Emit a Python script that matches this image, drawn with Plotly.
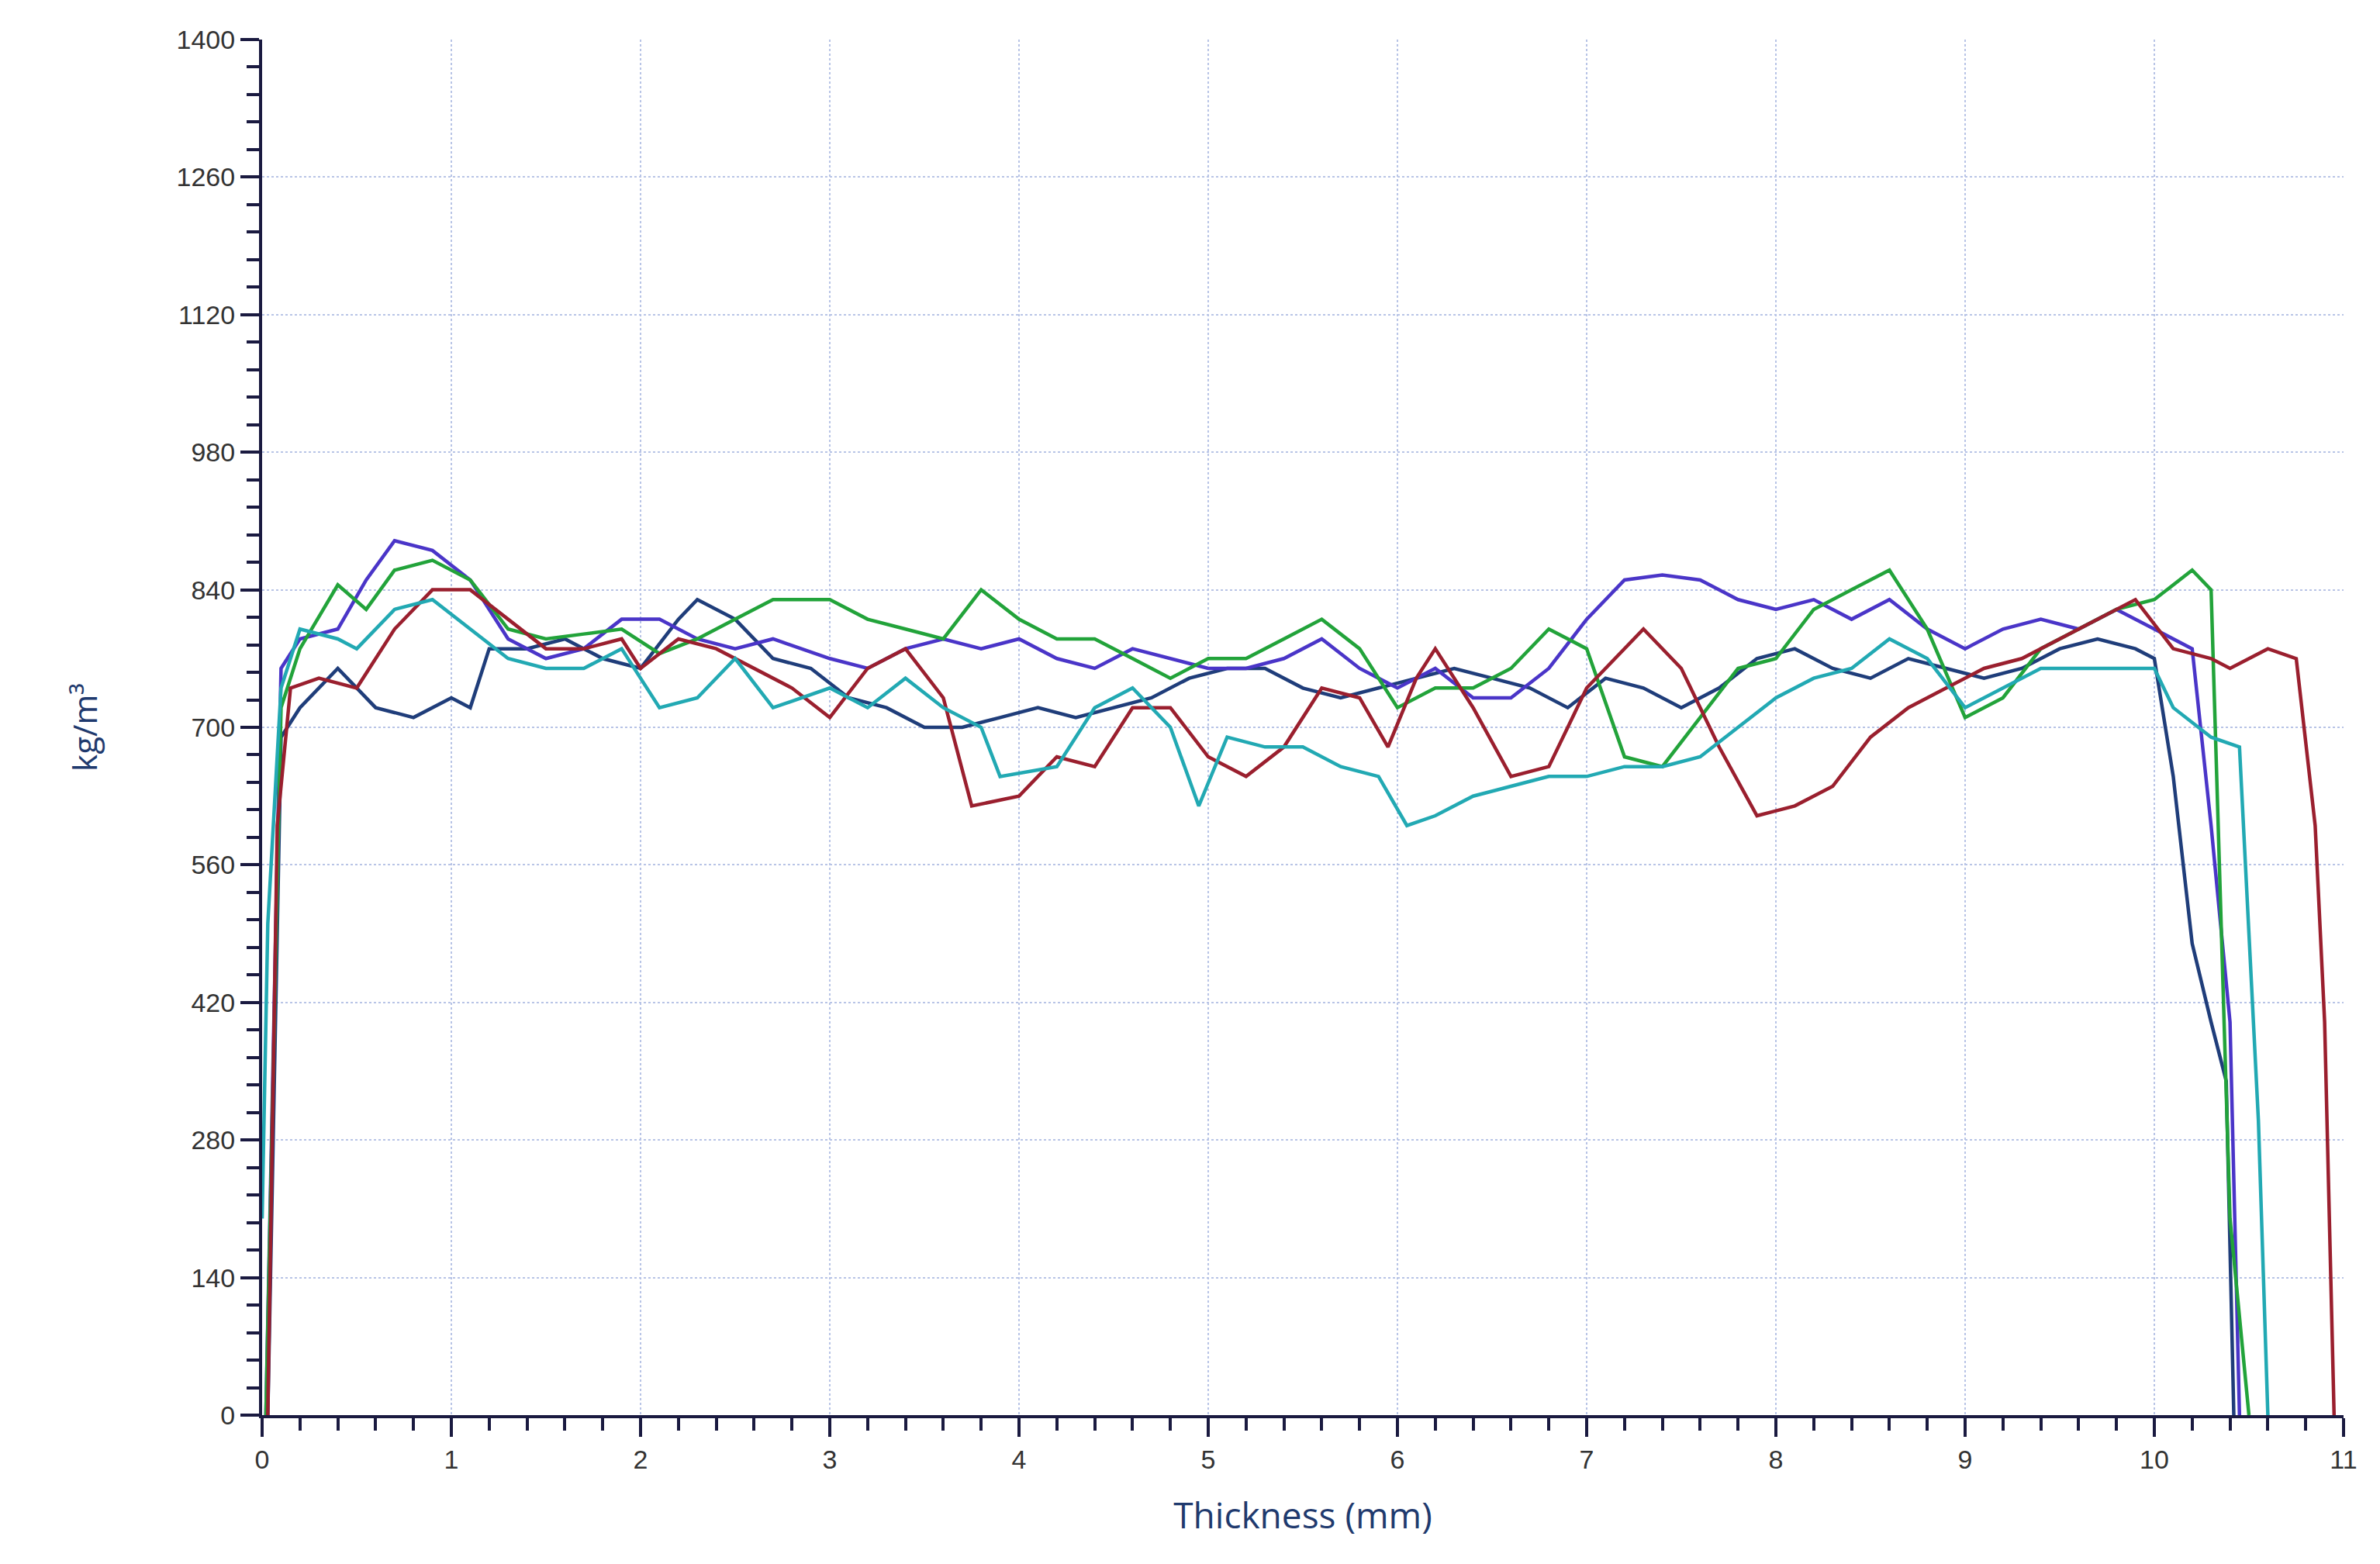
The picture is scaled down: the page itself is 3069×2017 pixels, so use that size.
import plotly.graph_objects as go

purple_x = [0.02,0.1,0.2,0.4,0.55,0.7,0.9,1.1,1.3,1.5,1.7,1.9,2.1,2.3,2.5,2.7,3.0,3.2,3.4,3.6,3.8,4.0,4.2,4.4,4.6,4.8,5.0,5.2,5.4,5.6,5.8,6.0,6.2,6.4,6.6,6.8,7.0,7.2,7.4,7.6,7.8,8.0,8.2,8.4,8.6,8.8,9.0,9.2,9.4,9.6,9.8,10.0,10.2,10.3,10.4,10.45]
purple_y = [0,760,790,800,850,890,880,850,790,770,780,810,810,790,780,790,770,760,780,790,780,790,770,760,780,770,760,760,770,790,760,740,760,730,730,760,810,850,855,850,830,820,830,810,830,800,780,800,810,800,820,800,780,600,400,0]

green_x = [0.02,0.1,0.2,0.4,0.55,0.7,0.9,1.1,1.3,1.5,1.7,1.9,2.1,2.3,2.5,2.7,3.0,3.2,3.4,3.6,3.8,4.0,4.2,4.4,4.6,4.8,5.0,5.2,5.4,5.6,5.8,6.0,6.2,6.4,6.6,6.8,7.0,7.2,7.4,7.6,7.8,8.0,8.2,8.4,8.6,8.8,9.0,9.2,9.4,9.6,9.8,10.0,10.2,10.3,10.4,10.5]
green_y = [0,720,780,845,820,860,870,850,800,790,795,800,775,790,810,830,830,810,800,790,840,810,790,790,770,750,770,770,790,810,780,720,740,740,760,800,780,670,660,710,760,770,820,840,860,800,710,730,780,800,820,830,860,840,200,0]

red_x = [0.03,0.08,0.15,0.3,0.5,0.7,0.9,1.1,1.3,1.5,1.7,1.9,2.0,2.2,2.4,2.6,2.8,3.0,3.2,3.4,3.6,3.75,4.0,4.2,4.4,4.6,4.8,5.0,5.2,5.4,5.6,5.8,5.95,6.1,6.2,6.4,6.6,6.8,7.0,7.3,7.5,7.7,7.9,8.1,8.3,8.5,8.7,8.9,9.1,9.3,9.5,9.7,9.9,10.1,10.3,10.4,10.6,10.75,10.85,10.9,10.95]
red_y = [0,600,740,750,740,800,840,840,810,780,780,790,760,790,780,760,740,710,760,780,730,620,630,670,660,720,720,670,650,680,740,730,680,750,780,720,650,660,740,800,760,680,610,620,640,690,720,740,760,770,790,810,830,780,770,760,780,770,600,400,0]

cyan_x = [0.0,0.03,0.1,0.2,0.4,0.5,0.7,0.9,1.1,1.3,1.5,1.7,1.9,2.1,2.3,2.5,2.7,3.0,3.2,3.4,3.6,3.8,3.9,4.2,4.4,4.6,4.8,4.95,5.1,5.3,5.5,5.7,5.9,6.05,6.2,6.4,6.6,6.8,7.0,7.2,7.4,7.6,7.8,8.0,8.2,8.4,8.6,8.8,9.0,9.2,9.4,9.6,9.8,10.0,10.1,10.3,10.45,10.55,10.6]
cyan_y = [200,500,740,800,790,780,820,830,800,770,760,760,780,720,730,770,720,740,720,750,720,700,650,660,720,740,700,620,690,680,680,660,650,600,610,630,640,650,650,660,660,670,700,730,750,760,790,770,720,740,760,760,760,760,720,690,680,300,0]

navy_x = [0.03,0.1,0.2,0.3,0.4,0.6,0.8,1.0,1.1,1.2,1.4,1.6,1.8,2.0,2.2,2.3,2.5,2.7,2.9,3.1,3.3,3.5,3.7,3.9,4.1,4.3,4.5,4.7,4.9,5.1,5.3,5.5,5.7,5.9,6.1,6.3,6.5,6.7,6.9,7.1,7.3,7.5,7.7,7.9,8.1,8.3,8.5,8.7,8.9,9.1,9.3,9.5,9.7,9.9,10.0,10.1,10.2,10.3,10.38,10.42]
navy_y = [0,690,720,740,760,720,710,730,720,780,780,790,770,760,810,830,810,770,760,730,720,700,700,710,720,710,720,730,750,760,760,740,730,740,750,760,750,740,720,750,740,720,740,770,780,760,750,770,760,750,760,780,790,780,770,650,480,400,340,0]

series = [
    ("navy", navy_x, navy_y, "#1f3d7a"),
    ("purple", purple_x, purple_y, "#4a35c8"),
    ("green", green_x, green_y, "#22a33a"),
    ("red", red_x, red_y, "#9a1f2e"),
    ("cyan", cyan_x, cyan_y, "#22a9b3"),
]

fig = go.Figure()
for name, xs, ys, c in series:
    fig.add_trace(go.Scatter(x=xs, y=ys, mode="lines", name=name,
                             line=dict(color=c, width=4.5), showlegend=False))

fig.update_layout(
    width=3069, height=2017, paper_bgcolor="white", plot_bgcolor="white",
    margin=dict(l=330, r=55, t=43, b=200),
    font=dict(family="Liberation Sans, Arial", color="#333"),
)
fig.update_xaxes(range=[0, 11], dtick=1, showgrid=True, gridcolor="#b8c4e6",
                 griddash="dot", gridwidth=2, showline=True, linecolor="#1a1a40",
                 linewidth=4, ticks="outside", ticklen=24, tickwidth=4, tickcolor="#1a1a40",
                 tickfont=dict(size=34), zeroline=False,
                 minor=dict(dtick=0.2, ticks="outside", ticklen=16, tickwidth=4, tickcolor="#1a1a40", showgrid=False),
                 title=dict(text="Thickness (mm)", font=dict(size=46, color="#1f3a6e", family="Open Sans"), standoff=40))
fig.update_yaxes(range=[0, 1400], dtick=140, showgrid=True, gridcolor="#b8c4e6",
                 griddash="dot", gridwidth=2, showline=True, linecolor="#1a1a40",
                 linewidth=4, ticks="outside", ticklen=24, tickwidth=4, tickcolor="#1a1a40",
                 tickfont=dict(size=34), zeroline=False,
                 minor=dict(dtick=28, ticks="outside", ticklen=16, tickwidth=4, tickcolor="#1a1a40", showgrid=False),
                 title=dict(text="kg/m³", font=dict(size=42, color="#1f3a6e", family="Open Sans"), standoff=90))
fig.write_html("out.html")
